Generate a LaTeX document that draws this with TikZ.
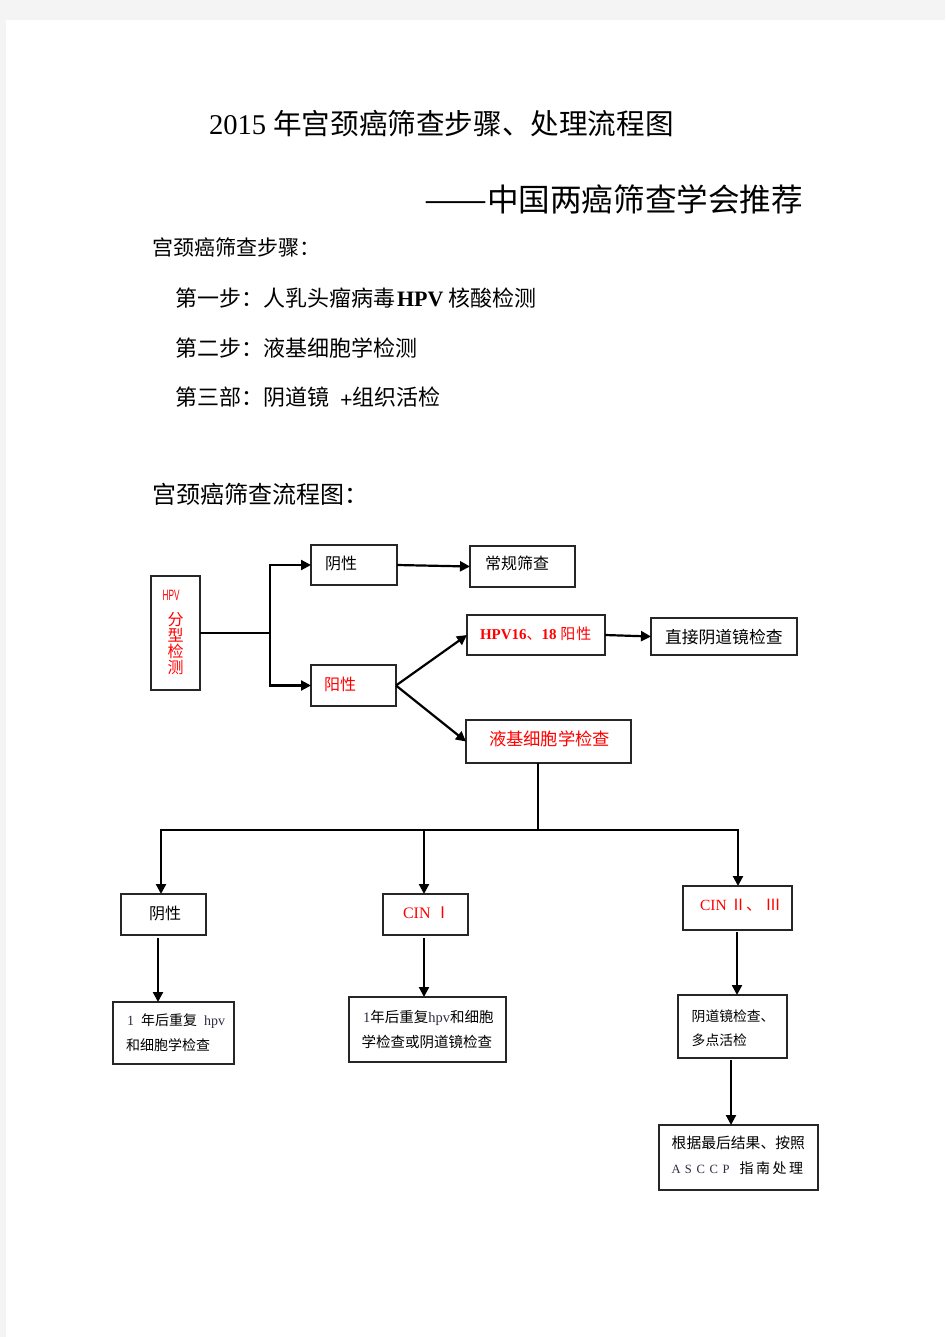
\documentclass[tikz,border=0pt]{standalone}
\usepackage{fontspec}
\usepackage{graphicx}
\setmainfont{Liberation Serif}
\newfontfamily\zh{Noto Sans CJK SC}
\newfontfamily\lat{Liberation Serif}
\newfontfamily\sansf{Liberation Sans}
\usetikzlibrary{arrows.meta}
\newcommand\fsz[1]{\fontsize{#1pt}{#1pt}\selectfont}
\definecolor{pagebg}{HTML}{F4F4F4}
\definecolor{myred}{HTML}{FF0000}
\definecolor{dk}{HTML}{2E2E44}
\tikzset{
  box/.style={draw=black!85, line width=1.2pt, inner sep=0pt, outer sep=0pt, fill=white},
  conn/.style={line width=2.2pt, black},
  arr/.style={conn, -{Triangle[length=10pt,width=10pt]}},
  txt/.style={inner sep=0pt, outer sep=0pt, anchor=base west, font=\zh},
}
\begin{document}
\begin{tikzpicture}[x=1pt,y=-1pt]
\useasboundingbox (0,0) rectangle (945,1337);
\fill[pagebg] (0,0) rectangle (945,1337);
\fill[white] (6,20) rectangle (945,1337);

% ---- heading text ----
\node[txt] (title) at (209,134.6) {\fsz{28.6}{\lat 2015 }年宫颈癌筛查步骤、处理流程图};
\node[txt] (subtitle) at (424,212) {\fsz{31.6}\scalebox{1.19}[1]{——}中国两癌筛查学会推荐};
\node[txt] (steps) at (152,256) {\fsz{21}宫颈癌筛查步骤：};
\node[txt] (step1) at (175,306.4) {\fsz{22}第一步：人乳头瘤病毒{\lat\bfseries\kern2pt HPV }核酸检测};
\node[txt] (step2) at (175,356.4) {\fsz{22}第二步：液基细胞学检测};
\node[txt] (step3) at (175,405.4) {\fsz{22}第三部：阴道镜{\lat\bfseries\ \ \raisebox{-2pt}{+}}组织活检};
\node[txt] (flowtitle) at (152,503) {\fsz{24}宫颈癌筛查流程图：};

% ---- boxes ----
\node[box, minimum width=49pt, minimum height=114pt] (hpv) at (175.5,633) {};
\node[box, minimum width=86pt, minimum height=40pt] (neg) at (354,565) {};
\node[box, minimum width=85pt, minimum height=41pt] (pos) at (353.5,685.5) {};
\node[box, minimum width=105pt, minimum height=41pt] (routine) at (522.5,566.5) {};
\node[box, minimum width=138pt, minimum height=40pt] (h1618) at (536,635) {};
\node[box, minimum width=146pt, minimum height=37pt] (direct) at (724,636.5) {};
\node[box, minimum width=165pt, minimum height=43pt] (lbc) at (548.5,741.5) {};
\node[box, minimum width=85pt, minimum height=41pt] (neg2) at (163.5,914.5) {};
\node[box, minimum width=85pt, minimum height=41pt] (cin1) at (425.5,914.5) {};
\node[box, minimum width=109pt, minimum height=44pt] (cin23) at (737.5,908) {};
\node[box, minimum width=121pt, minimum height=62pt] (rep1) at (173.5,1033) {};
\node[box, minimum width=157pt, minimum height=65pt] (rep2) at (427.5,1029.5) {};
\node[box, minimum width=109pt, minimum height=63pt] (colpo) at (732.5,1026.5) {};
\node[box, minimum width=159pt, minimum height=65pt, line width=2pt] (final) at (738.5,1157.5) {};

% ---- box texts ----
\node[txt, text=myred, font=\sansf] (hpv-t) at (162.7,600) {\fsz{15}\scalebox{0.55}[1]{HPV}};
\node[txt, text=myred, anchor=base] (hpv-c1) at (175.7,625.1) {\fsz{16}分};
\node[txt, text=myred, anchor=base] (hpv-c2) at (175.7,641.1) {\fsz{16}型};
\node[txt, text=myred, anchor=base] (hpv-c3) at (175.7,657.6) {\fsz{16}检};
\node[txt, text=myred, anchor=base] (hpv-c4) at (175.7,673.6) {\fsz{16}测};
\node[txt] (neg-t) at (325,569.4) {\fsz{16}阴性};
\node[txt, text=myred] (pos-t) at (324,690.1) {\fsz{16}阳性};
\node[txt] (routine-t) at (485,569.4) {\fsz{16}常规筛查};
\node[txt, text=myred] (h1618-t) at (480,639.8) {\fsz{15}{\lat\bfseries HPV16}、{\lat\bfseries 18 }阳\kern1pt 性};
\node[txt] (direct-t) at (665,643.1) {\fsz{16.8}直接阴道镜检查};
\node[txt, text=myred] (lbc-t) at (489,745.6) {\fsz{17.3}液基细胞学检查};
\node[txt] (neg2-t) at (149,919) {\fsz{16}阴性};
\node[txt, text=myred] (cin1-t) at (403,918.5) {\fsz{16}{\lat CIN }Ⅰ};
\node[txt, text=myred] (cin23-t) at (700,910.5) {\fsz{15.5}{\lat CIN }Ⅱ、{\lat\ }Ⅲ};
\node[txt] (rep1-t1) at (127,1025.3) {\fsz{14}{\color{dk}\lat 1\ \ }年后重复{\color{dk}\lat\ \ hpv}};
\node[txt] (rep1-t2) at (126,1050.3) {\fsz{14}和细胞学检查};
\node[txt] (rep2-t1) at (363,1022.2) {\fsz{14.5}{\color{dk}\lat 1}年后重复{\color{dk}\lat hpv}和细胞};
\node[txt] (rep2-t2) at (361.7,1047.2) {\fsz{14.5}学检查或阴道镜检查};
\node[txt] (colpo-t1) at (691.7,1021.9) {\fsz{13.8}阴道镜检查、};
\node[txt] (colpo-t2) at (691.7,1045.2) {\fsz{13.8}多点活检};
\node[txt] (final-t1) at (671.7,1148.9) {\fsz{14.8}根据最后结果、按照};
\node[txt] (final-t2) at (671.5,1173.5) {\fsz{14}{\color{dk}\lat\fsz{12.6}A\kern4.3pt S\kern4.6pt C\kern4.6pt C\kern4.6pt P}\kern10pt 指\kern2.5pt 南\kern2.5pt 处\kern2.5pt 理};

% ---- connectors ----
\coordinate (j) at (270,635);
\draw[conn] (hpv.east) -- (hpv.east -| j);
\draw[arr] (hpv.east -| j) |- (neg.west);
\draw[arr] (hpv.east -| j) |- (pos.west);
\draw[arr] (neg.east) -- (routine.west);
\draw[arr] (pos.east) -- (h1618.west);
\draw[arr] (pos.east) -- (lbc.west);
\draw[arr] (h1618.east) -- (direct.west);

\coordinate (bl) at (161,830);
\coordinate (bm) at (424,830);
\coordinate (br) at (738,830);
\draw[conn] ([xshift=-10.5pt]lbc.south) -- ([xshift=-10.5pt]lbc.south |- bm);
\draw[arr] (bm) -- (bl) -- (bl |- neg2.north);
\draw[arr] (bm) -- (br) -- (br |- cin23.north);
\draw[arr] (bm) -- (bm |- cin1.north);

\draw[arr] ([xshift=-5.5pt,yshift=-3pt]neg2.south) -- ([xshift=-5.5pt]neg2.south |- rep1.north);
\draw[arr] ([xshift=-1.5pt,yshift=-3pt]cin1.south) -- ([xshift=-1.5pt]cin1.south |- rep2.north);
\draw[arr] ([xshift=-0.5pt,yshift=-2pt]cin23.south) -- ([xshift=-0.5pt]cin23.south |- colpo.north);
\draw[arr] ([xshift=-1.5pt,yshift=-2pt]colpo.south) -- ([xshift=-1.5pt]colpo.south |- final.north);
\end{tikzpicture}
\end{document}
